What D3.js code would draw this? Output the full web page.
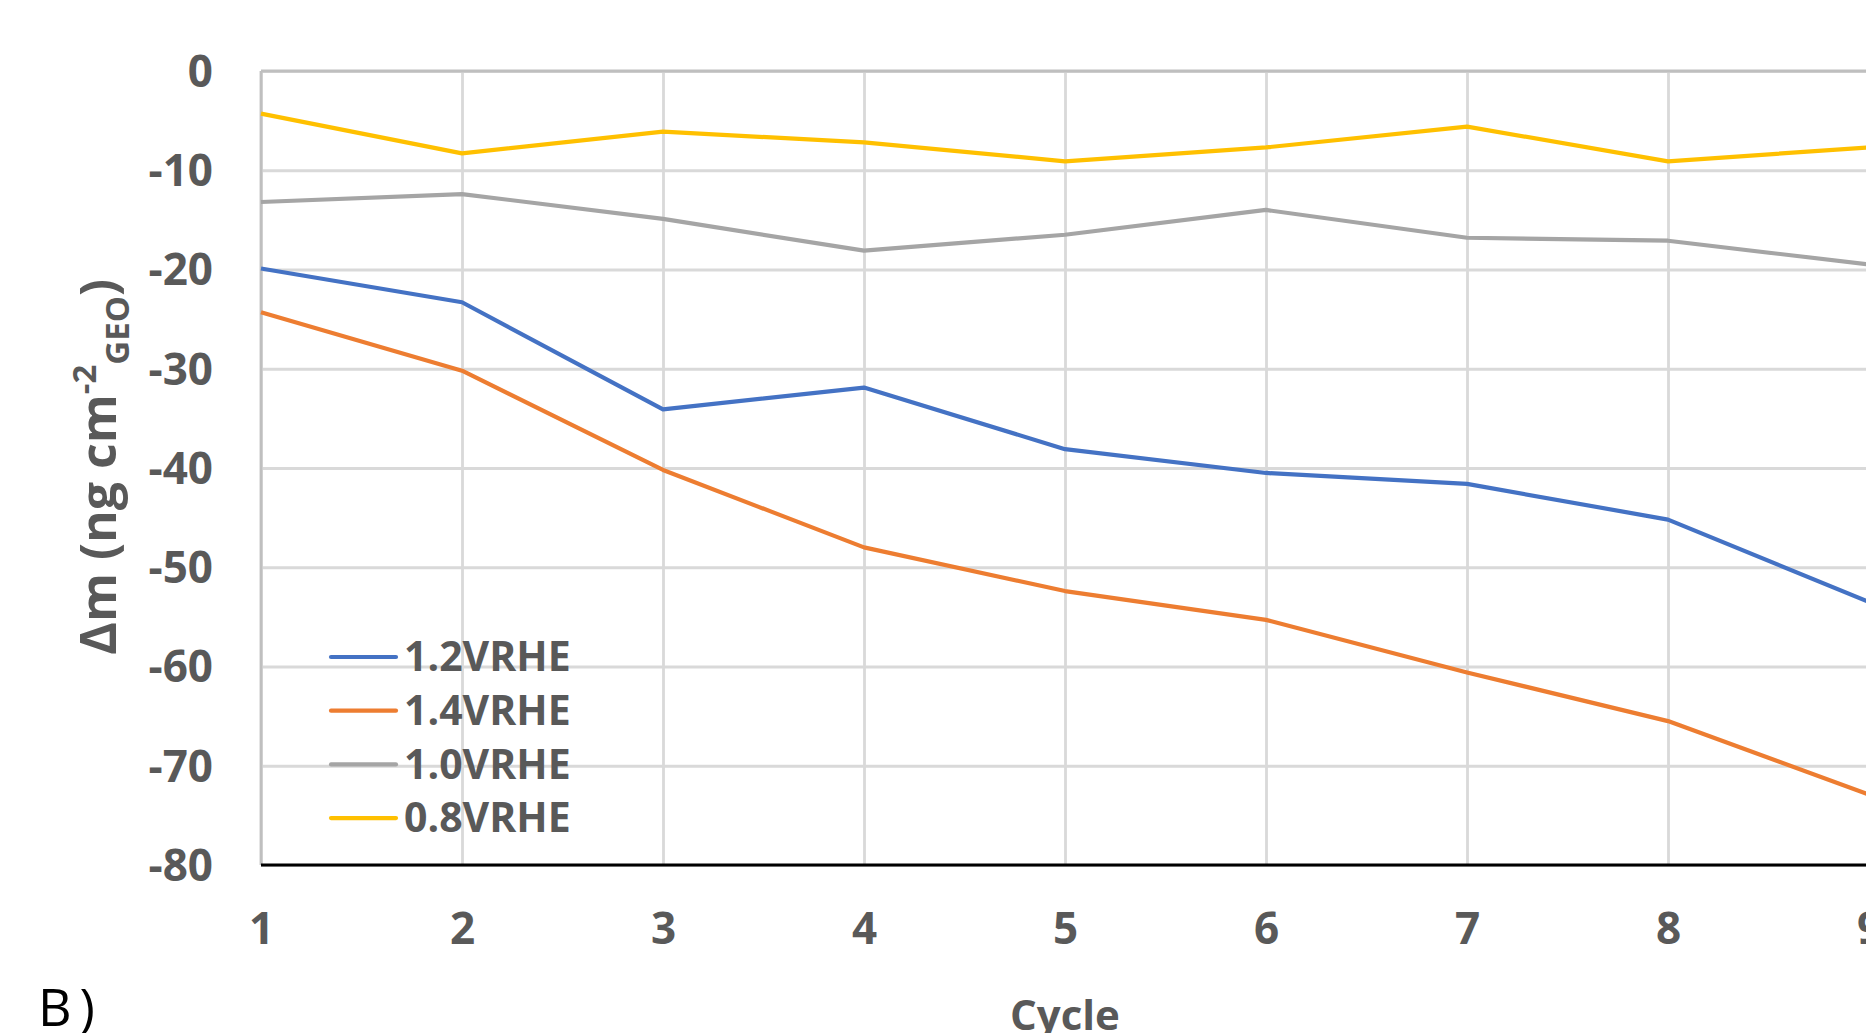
<!DOCTYPE html>
<html>
<head>
<meta charset="utf-8">
<script src="https://cdn.jsdelivr.net/npm/d3@7"></script>
<style>
  html, body { margin: 0; padding: 0; background: #fff; overflow: hidden; }
  svg { display: block; }
  .tick-label { font-family: "Liberation Sans Narrow", "Open Sans", sans-serif; font-weight: bold; fill: #595959; }
  .axis-title { font-family: "Open Sans", sans-serif; font-weight: bold; fill: #595959; }
</style>
</head>
<body>
<div id="chart"></div>
<script>
// --- Data ---
const cycles = [1, 2, 3, 4, 5, 6, 7, 8, 9];
const seriesNames = ["1.2VRHE", "1.4VRHE", "1.0VRHE", "0.8VRHE"];
const seriesColors = ["#4472C4", "#ED7D31", "#A5A5A5", "#FFC000"];
const v12 = [-19.9, -23.3, -34.1, -31.9, -38.1, -40.5, -41.6, -45.2, -53.5];
const v14 = [-24.3, -30.2, -40.2, -48.0, -52.4, -55.3, -60.6, -65.5, -72.9];
const v10 = [-13.2, -12.4, -14.9, -18.1, -16.5, -14.0, -16.8, -17.1, -19.5];
const v08 = [-4.3, -8.3, -6.1, -7.2, -9.1, -7.7, -5.6, -9.1, -7.7];
const yTicks = [0, -10, -20, -30, -40, -50, -60, -70, -80];

const W = 1866, H = 1033;
const plot = { left: 261, right: 1869, top: 71, bottom: 865 };

const svg = d3.select("#chart").append("svg")
    .attr("width", W).attr("height", H);

const x = d3.scaleLinear().domain([1, 9]).range([plot.left, plot.right]);
const y = d3.scaleLinear().domain([-80, 0]).range([plot.bottom, plot.top]);

// Grid
svg.append("g").attr("transform", `translate(0,${plot.bottom})`)
    .call(d3.axisBottom(x).tickValues(cycles).tickSize(-(plot.bottom - plot.top)).tickFormat(""))
    .call(g => g.select(".domain").remove())
    .call(g => g.selectAll("line").attr("stroke", "#d9d9d9").attr("stroke-width", 2.8));
svg.append("g").attr("transform", `translate(${plot.left},0)`)
    .call(d3.axisLeft(y).tickValues(yTicks).tickSize(-(W - plot.left)).tickFormat(""))
    .call(g => g.select(".domain").remove())
    .call(g => g.selectAll("line").attr("stroke", "#d9d9d9").attr("stroke-width", 2.8));

// top + left border
svg.append("line").attr("x1", plot.left).attr("x2", W).attr("y1", y(0)).attr("y2", y(0))
    .attr("stroke", "#bfbfbf").attr("stroke-width", 2.8);
svg.append("line").attr("x1", plot.left).attr("x2", plot.left).attr("y1", y(0)).attr("y2", y(-80))
    .attr("stroke", "#bfbfbf").attr("stroke-width", 2.8);

// Tick labels (plain hyphen like the original, not the unicode minus)
svg.append("g").attr("transform", `translate(${plot.left},0)`)
    .call(d3.axisLeft(y).tickValues(yTicks).tickSize(0).tickPadding(48).tickFormat(d => String(d)))
    .call(g => g.select(".domain").remove())
    .call(g => g.selectAll("text").attr("class", "tick-label").attr("font-size", 44)
        .attr("fill", null).attr("font-family", null).attr("dy", "0.35em"));
svg.append("g").attr("transform", `translate(0,${plot.bottom})`)
    .call(d3.axisBottom(x).tickValues(cycles).tickSize(0).tickPadding(48).tickFormat(d => String(d)))
    .call(g => g.select(".domain").remove())
    .call(g => g.selectAll("text").attr("class", "tick-label").attr("font-size", 44)
        .attr("fill", null).attr("font-family", null).attr("dy", "0.71em"));

// Series
const allSeries = [v12, v14, v10, v08];
const line = d3.line().x((d, i) => x(cycles[i])).y(d => y(d));
// draw back to front: 0.8, 1.0, 1.4, 1.2
[3, 2, 1, 0].forEach(k => {
    svg.append("path").datum(allSeries[k])
        .attr("d", line)
        .attr("fill", "none")
        .attr("stroke", seriesColors[k])
        .attr("stroke-width", 4.2)
        .attr("stroke-linejoin", "round");
});

// Bottom axis line
svg.append("line").attr("x1", plot.left).attr("x2", W).attr("y1", y(-80)).attr("y2", y(-80))
    .attr("stroke", "#000").attr("stroke-width", 3);

// Legend
const legend = svg.append("g").attr("transform", "translate(331,657)");
seriesNames.forEach((name, i) => {
    const row = legend.append("g").attr("transform", `translate(0,${i * 53.7})`);
    row.append("line").attr("x1", 0).attr("x2", 65).attr("y1", 0).attr("y2", 0)
        .attr("stroke", seriesColors[i]).attr("stroke-width", 4.2).attr("stroke-linecap", "round");
    row.append("text").attr("class", "tick-label").attr("x", 73).attr("y", 0)
        .attr("dy", "0.35em").attr("font-size", 41).text(name);
});

// Axis titles
const yTitle = svg.append("text").attr("class", "axis-title")
    .attr("transform", "translate(116,467) rotate(-90)")
    .attr("text-anchor", "middle").attr("font-size", 50);
yTitle.append("tspan").text("Δm (ng cm");
yTitle.append("tspan").attr("font-size", 33).attr("dy", -20).text("-2");
yTitle.append("tspan").attr("font-size", 33).attr("dy", 33).text("GEO");
yTitle.append("tspan").attr("dy", -13).text(")");

svg.append("text").attr("class", "axis-title")
    .attr("x", 1065).attr("y", 1030).attr("text-anchor", "middle")
    .attr("font-size", 42).text("Cycle");

svg.append("text").attr("x", 38).attr("y", 1026)
    .attr("font-family", "'Open Sans', sans-serif").attr("font-size", 52)
    .attr("fill", "#000").attr("letter-spacing", 8).text("B)");
</script>
</body>
</html>
